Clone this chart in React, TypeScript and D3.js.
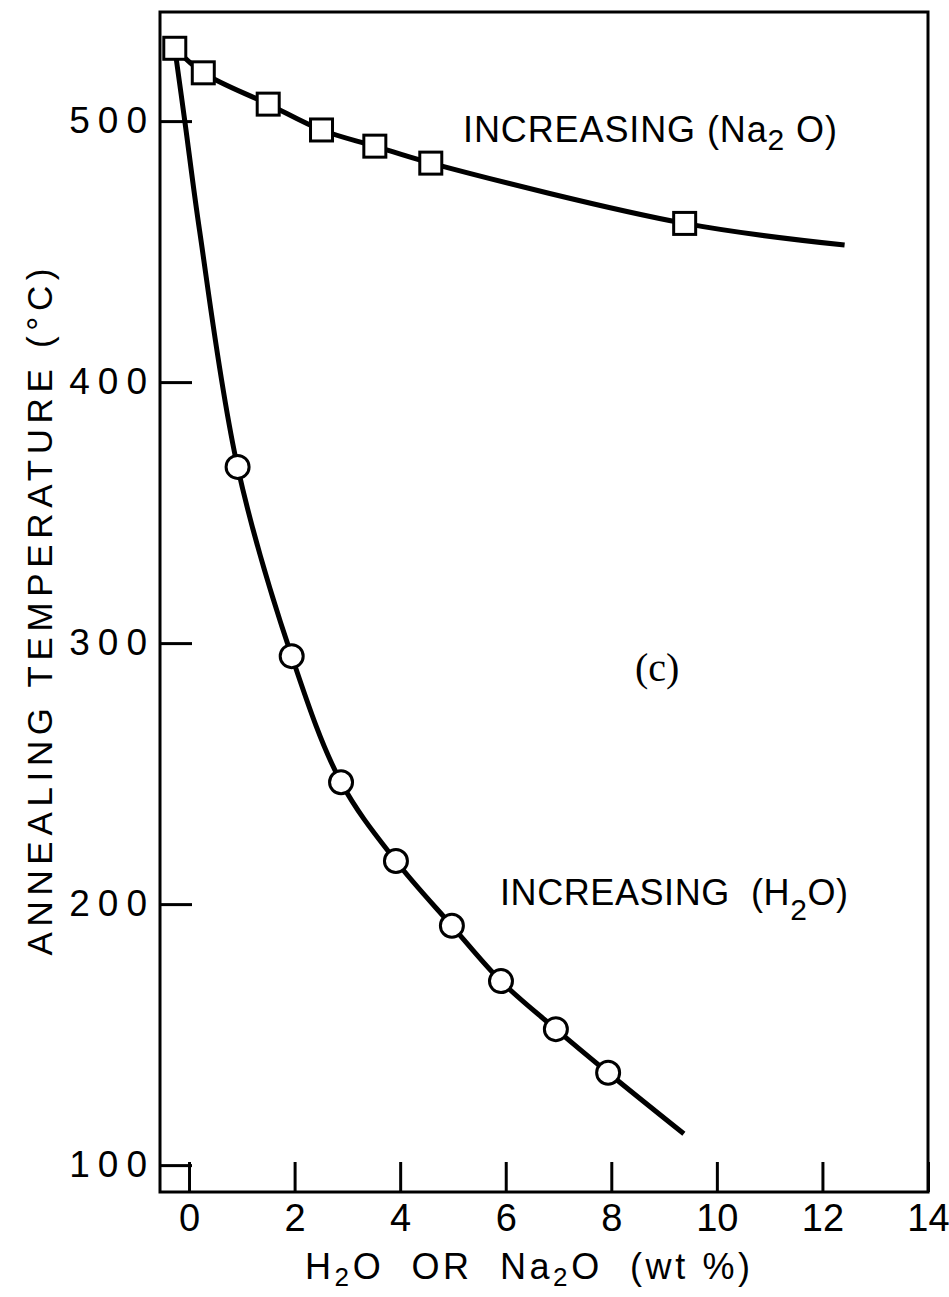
import React, { useEffect, useRef } from "react";
import * as d3 from "d3";

// Page size
const W = 949;
const H = 1297;
const frame = { left: 160, right: 928, top: 12, bottom: 1192 };

// Axis ticks
const xTicks = [0, 2, 4, 6, 8, 10, 12, 14];
const yTicks = [100, 200, 300, 400, 500];

// Na2O series (squares), wt % vs annealing temperature
const na2oX = [-0.27, 0.27, 1.5, 2.51, 3.52, 4.58, 9.39];
const na2oY = [527.9, 518.5, 506.5, 496.6, 490.4, 483.9, 460.8];
// drawn curve for Na2O (markers + end of line)
const na2oCurveX = [-0.27, 0.27, 1.5, 2.51, 3.52, 4.58, 9.39, 12.42];
const na2oCurveY = [527.9, 518.5, 506.5, 496.6, 490.4, 483.9, 460.8, 452.5];

// H2O series (circles)
const h2oX = [0.92, 1.945, 2.88, 3.92, 4.98, 5.91, 6.95, 7.94];
const h2oY = [367.5, 295, 246.7, 216.5, 191.7, 170.5, 152.1, 135.4];
// drawn curve for H2O (starts at the shared point, ends past last circle)
const h2oCurveX = [-0.27, -0.08, 0.2, 0.92, 1.945, 2.88, 3.92, 4.98, 5.91, 6.95, 7.94, 9.375];
const h2oCurveY = [527.9, 500, 458, 367.5, 295, 246.7, 216.5, 191.7, 170.5, 152.1, 135.4, 112];

const FONT = "'Liberation Sans', Arial, sans-serif";

const App = () => {
  const svgRef = useRef(null);

  useEffect(() => {
    if (!svgRef.current) return;
    const svg = d3.select(svgRef.current);
    svg.selectAll("*").remove();

    const x = d3.scaleLinear().domain([-0.55, 14]).range([frame.left, frame.right]);
    const y = d3.scaleLinear().domain([89.7, 541.8]).range([frame.bottom, frame.top]);

    svg.append("rect").attr("width", W).attr("height", H).attr("fill", "#fff");

    // frame
    svg
      .append("rect")
      .attr("x", frame.left)
      .attr("y", frame.top)
      .attr("width", frame.right - frame.left)
      .attr("height", frame.bottom - frame.top)
      .attr("fill", "none")
      .attr("stroke", "#000")
      .attr("stroke-width", 3);

    // X axis (ticks pointing in)
    const gx = svg
      .append("g")
      .attr("transform", `translate(0,${frame.bottom})`)
      .call(d3.axisBottom(x).tickValues(xTicks).tickSize(-30).tickSizeOuter(0).tickPadding(12));
    gx.select(".domain").remove();
    gx.selectAll("line").attr("stroke", "#000").attr("stroke-width", 3);
    gx.selectAll("text")
      .attr("fill", "#000")
      .style("font-family", FONT)
      .style("font-size", "38px");

    // Y axis
    const gy = svg
      .append("g")
      .attr("transform", `translate(${frame.left},0)`)
      .call(d3.axisLeft(y).tickValues(yTicks).tickSize(-32).tickSizeOuter(0).tickPadding(5));
    gy.select(".domain").remove();
    gy.selectAll("line").attr("stroke", "#000").attr("stroke-width", 3);
    gy.selectAll("text")
      .attr("fill", "#000")
      .style("font-family", FONT)
      .style("font-size", "37px")
      .style("letter-spacing", "8px");

    // Curves
    const line = d3
      .line()
      .x((d) => x(d[0]))
      .y((d) => y(d[1]))
      .curve(d3.curveCatmullRom.alpha(0.5));

    svg
      .append("path")
      .attr("d", line(na2oCurveX.map((v, i) => [v, na2oCurveY[i]])))
      .attr("fill", "none")
      .attr("stroke", "#000")
      .attr("stroke-width", 5);

    svg
      .append("path")
      .attr("d", line(h2oCurveX.map((v, i) => [v, h2oCurveY[i]])))
      .attr("fill", "none")
      .attr("stroke", "#000")
      .attr("stroke-width", 5);

    // Markers
    const sq = 22;
    svg
      .selectAll("rect.na2o")
      .data(na2oX.map((v, i) => [v, na2oY[i]]))
      .join("rect")
      .attr("class", "na2o")
      .attr("x", (d) => x(d[0]) - sq / 2)
      .attr("y", (d) => y(d[1]) - sq / 2)
      .attr("width", sq)
      .attr("height", sq)
      .attr("fill", "#fff")
      .attr("stroke", "#000")
      .attr("stroke-width", 3);

    svg
      .selectAll("circle.h2o")
      .data(h2oX.map((v, i) => [v, h2oY[i]]))
      .join("circle")
      .attr("class", "h2o")
      .attr("cx", (d) => x(d[0]))
      .attr("cy", (d) => y(d[1]))
      .attr("r", 11.5)
      .attr("fill", "#fff")
      .attr("stroke", "#000")
      .attr("stroke-width", 3);
  }, []);

  const txt = { fontFamily: FONT, fill: "#000" };

  return (
    <div style={{ position: "absolute", left: 0, top: 0, width: W, height: H }}>
      <svg ref={svgRef} width={W} height={H} style={{ display: "block" }}></svg>
      <svg width={W} height={H} style={{ position: "absolute", left: 0, top: 0 }}>
        {/* Y axis title */}
        <text
          transform="translate(52,612) rotate(-90)"
          textAnchor="middle"
          fontSize={35}
          textLength={687}
          lengthAdjust="spacing"
          style={txt}
        >
          ANNEALING TEMPERATURE (°C)
        </text>
        {/* X axis title */}
        <text x={305} y={1279} fontSize={36} textLength={445} lengthAdjust="spacing" style={txt} xmlSpace="preserve">
          H<tspan fontSize={26} dy={7}>2</tspan>
          <tspan dy={-7}>O  OR  Na</tspan>
          <tspan fontSize={26} dy={7}>2</tspan>
          <tspan dy={-7}>O  (wt %)</tspan>
        </text>
        {/* series labels */}
        <text x={463} y={142} fontSize={36} textLength={374} lengthAdjust="spacing" style={txt}>
          INCREASING (Na<tspan fontSize={30} dy={8}>2</tspan>
          <tspan dy={-8}> O)</tspan>
        </text>
        <text x={500} y={905} fontSize={36} textLength={348} lengthAdjust="spacing" style={txt} xmlSpace="preserve">
          INCREASING  (H<tspan fontSize={30} dy={15}>2</tspan>
          <tspan dy={-15}>O)</tspan>
        </text>
        <text x={635} y={681} fontSize={40} style={{ fontFamily: "'Liberation Serif', 'Times New Roman', serif", fill: "#000" }}>
          (c)
        </text>
      </svg>
    </div>
  );
};

export default App;
